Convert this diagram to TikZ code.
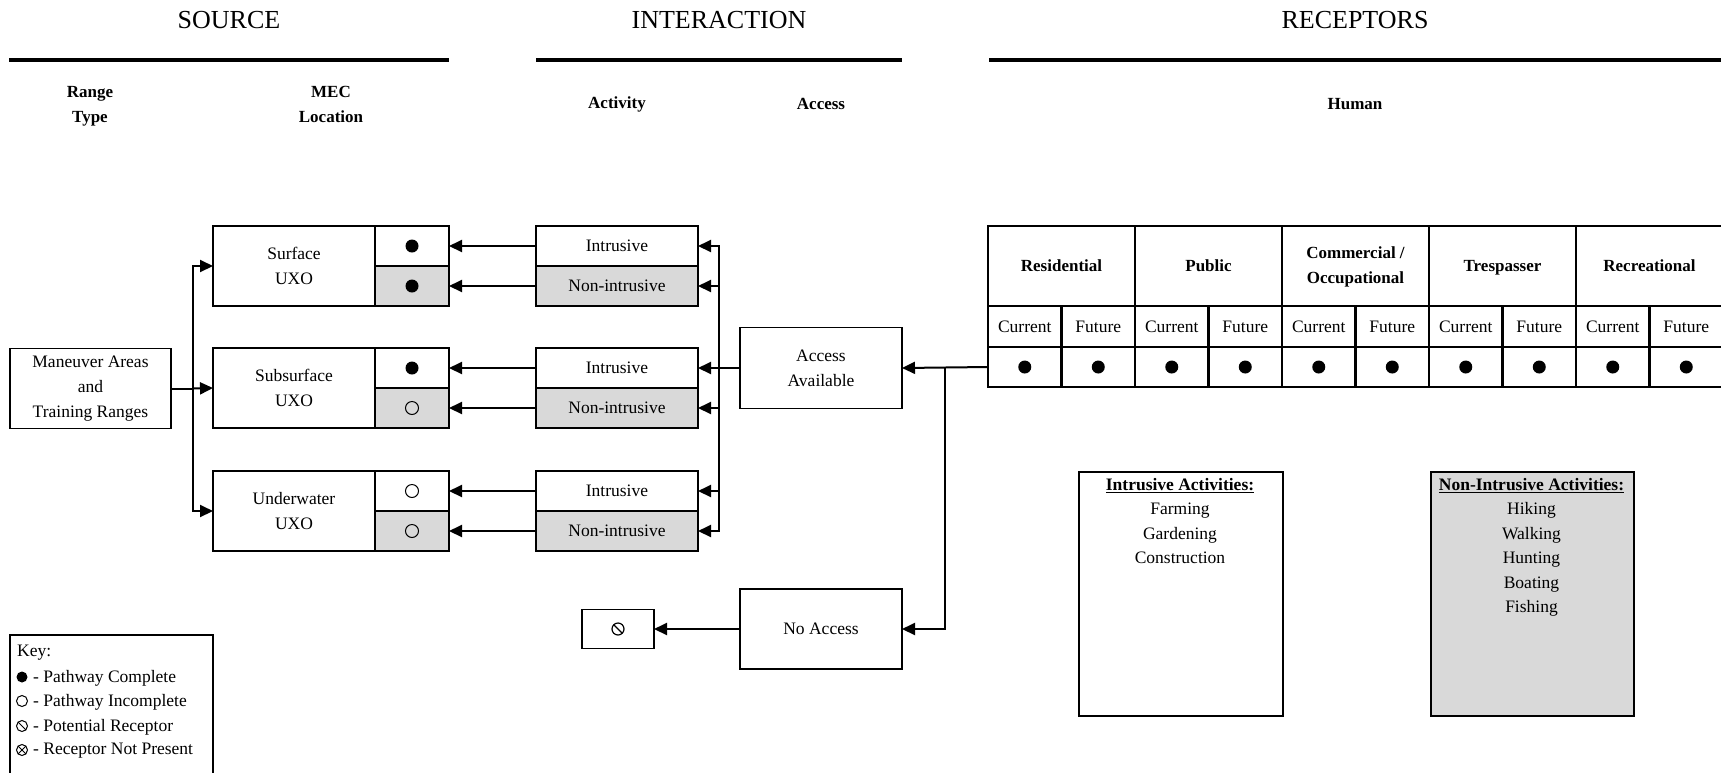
\documentclass[tikz,border=0pt]{standalone}
\usepackage{fontspec}
\setmainfont{Liberation Serif}
\usetikzlibrary{arrows.meta,calc}
\definecolor{cellgray}{HTML}{D9D9D9}
\begin{document}
\begin{tikzpicture}[x=1pt,y=-1pt,
  txt/.style={font=\fontsize{17.5pt}{25pt}\selectfont, inner sep=0pt, align=center},
  hd/.style={font=\fontsize{26pt}{30pt}\selectfont, inner sep=0pt},
  colhd/.style={font=\bfseries\fontsize{17pt}{25pt}\selectfont, inner sep=0pt, align=center},
  bx/.style={draw, line width=1.8pt, inner sep=0pt, outer sep=0pt, align=center,
    font=\fontsize{17.5pt}{25pt}\selectfont, minimum width=#1},
  bx/.default=162pt,
  tb/.style={draw, line width=2.4pt, inner sep=0pt, outer sep=0pt, align=center,
    minimum width=#1},
  tb/.default=73.5pt,
  gray/.style={fill=cellgray},
  ln/.style={line width=2pt},
  arr/.style={line width=2pt, -{Triangle[length=13pt,width=12pt]}},
  hline/.style={line width=3.3pt},
  fulldot/.style={fill=black},
  opendot/.style={draw=black, line width=1pt}
]
\clip (0,0) rectangle (1721,772);
\useasboundingbox (0,0) rectangle (1721,772);

% ---------- Headers ----------
\node[hd] (hsrc) at (229,20) {SOURCE};
\node[hd] (hint) at (719,20) {INTERACTION};
\node[hd] (hrec) at (1355,20) {RECEPTORS};
\coordinate (l1a) at (9,60);   \coordinate (l1b) at (449,60);
\coordinate (l2a) at (536,60); \coordinate (l2b) at (902,60);
\coordinate (l3a) at (989,60); \coordinate (l3b) at (1721,60);
\draw[hline] (l1a) -- (l1b);
\draw[hline] (l2a) -- (l2b);
\draw[hline] (l3a) -- (l3b);
\node[colhd] (hrange) at (90,106) {Range\\Type};
\node[colhd] (hmec) at (331,104) {MEC\\Location};
\node[colhd] (hact) at (617,104) {Activity};
\node[colhd] (hacc) at (821,104) {Access};
\node[colhd] (hhum) at (1355,104) {Human};

% ---------- Source ----------
\node[bx=161pt, minimum height=80pt] (man) at (90.5,388.5) {Maneuver Areas\\and\\Training Ranges};
\node[bx, minimum height=80pt] (surf) at (294,266) {Surface\\UXO};
\node[bx, minimum height=80pt] (sub) at (294,388) {Subsurface\\UXO};
\node[bx, minimum height=80pt] (und) at (294,511) {Underwater\\UXO};

\node[bx=74pt, minimum height=40pt] (c1) at (412,246) {};
\node[bx=74pt, minimum height=40pt, gray] (c2) at (412,286) {};
\node[bx=74pt, minimum height=40pt] (c3) at (412,368) {};
\node[bx=74pt, minimum height=40pt, gray] (c4) at (412,408) {};
\node[bx=74pt, minimum height=40pt] (c5) at (412,491) {};
\node[bx=74pt, minimum height=40pt, gray] (c6) at (412,531) {};
\fill[fulldot] (c1.center) circle[radius=6.5pt];
\fill[fulldot] (c2.center) circle[radius=6.5pt];
\fill[fulldot] (c3.center) circle[radius=6.5pt];
\draw[opendot] (c4.center) circle[radius=6.5pt];
\draw[opendot] (c5.center) circle[radius=6.5pt];
\draw[opendot] (c6.center) circle[radius=6.5pt];

\coordinate (tr) at (193,388.5);
\draw[ln] (man.east) -- (tr);
\draw[arr] (tr) |- (surf.west);
\draw[arr] (tr) -- (sub.west);
\draw[arr] (tr) |- (und.west);

% ---------- Interaction ----------
\node[bx, minimum height=40pt] (a1) at (617,246) {Intrusive};
\node[bx, minimum height=40pt, gray] (a2) at (617,286) {Non-intrusive};
\node[bx, minimum height=40pt] (a3) at (617,368) {Intrusive};
\node[bx, minimum height=40pt, gray] (a4) at (617,408) {Non-intrusive};
\node[bx, minimum height=40pt] (a5) at (617,491) {Intrusive};
\node[bx, minimum height=40pt, gray] (a6) at (617,531) {Non-intrusive};
\foreach \i in {1,...,6} {\draw[arr] (a\i.west) -- (c\i.east);}

\node[bx, minimum height=81pt] (acc) at (821,368) {Access\\Available};
\node[bx, minimum height=80pt] (noacc) at (821,629) {No Access};
\node[bx=72pt, minimum height=39pt] (pot) at (618,629) {};
\draw[line width=1.2pt] (pot.center) circle[radius=6pt];
\draw[line width=1.2pt] ($(pot.center)+(-4.2,-4.2)$) -- ($(pot.center)+(4.2,4.2)$);

\coordinate (bus) at (719,368);
\draw[ln] (acc.west) -- (bus);
\foreach \i in {1,...,6} {\draw[arr] (bus) |- (a\i.east);}
\draw[arr] (noacc.west) -- (pot.east);

% ---------- Receptors table ----------
\foreach \g/\lab in {0/Residential,1/Public,2/{Commercial /\\Occupational},3/Trespasser,4/Recreational} {
  \node[tb=147pt, minimum height=80pt, colhd] (g\g) at ({988+147*\g+73.5},266) {\strut\lab\strut};
}
\foreach \j in {0,...,9} {
  \pgfmathtruncatemacro{\odd}{mod(\j,2)}
  \ifnum\odd=0 \def\cf{Current}\else\def\cf{Future}\fi
  \node[tb, minimum height=41pt, txt] (s\j) at ({988+73.5*\j+36.75},326.5) {\cf};
  \node[tb, minimum height=40pt] (d\j) at ({988+73.5*\j+36.75},367) {};
  \fill[fulldot] (d\j.center) circle[radius=6.5pt];
}

\coordinate (jn) at (945,367);
\draw[arr] (d0.west) -- (acc.east);
\draw[arr] (jn) |- (noacc.east);

% ---------- Activity lists ----------
\node[draw, line width=1.8pt, minimum width=204pt, minimum height=244pt, anchor=north west] (ilist) at (1078,471) {};
\node[txt, anchor=north, align=center, font=\fontsize{17.5pt}{24.5pt}\selectfont] (itext) at (1180,478)
  {\underline{\textbf{Intrusive Activities:}}\\Farming\\Gardening\\Construction};
\node[draw, line width=1.8pt, gray, minimum width=203pt, minimum height=244pt, anchor=north west] (nlist) at (1430,471) {};
\node[txt, anchor=north, align=center, font=\fontsize{17.5pt}{24.5pt}\selectfont] (ntext) at (1531.5,478)
  {\underline{\textbf{Non-Intrusive Activities:}}\\Hiking\\Walking\\Hunting\\Boating\\Fishing};

% ---------- Key ----------
\node[draw, line width=1.5pt, minimum width=203pt, minimum height=170pt, anchor=north west] (key) at (9,634) {};
\node[txt, anchor=west] (k0) at (17,653) {Key:};
\node[txt, anchor=west] (k1) at (33,678) {- Pathway Complete};
\node[txt, anchor=west] (k2) at (33,702) {- Pathway Incomplete};
\node[txt, anchor=west] (k3) at (33,727) {- Potential Receptor};
\node[txt, anchor=west] (k4) at (33,751) {- Receptor Not Present};
\coordinate (s1) at (22,677); \coordinate (s2) at (22,701);
\coordinate (s3) at (22,726); \coordinate (s4) at (22,750);
\fill (s1) circle[radius=5.5pt];
\draw[line width=1pt] (s2) circle[radius=5.5pt];
\draw[line width=1pt] (s3) circle[radius=5.5pt];
\draw[line width=1pt] ($(s3)+(-3.9,-3.9)$) -- ($(s3)+(3.9,3.9)$);
\draw[line width=1pt] (s4) circle[radius=5.5pt];
\draw[line width=1pt] ($(s4)+(-3.9,-3.9)$) -- ($(s4)+(3.9,3.9)$);
\draw[line width=1pt] ($(s4)+(-3.9,3.9)$) -- ($(s4)+(3.9,-3.9)$);
\end{tikzpicture}
\end{document}
